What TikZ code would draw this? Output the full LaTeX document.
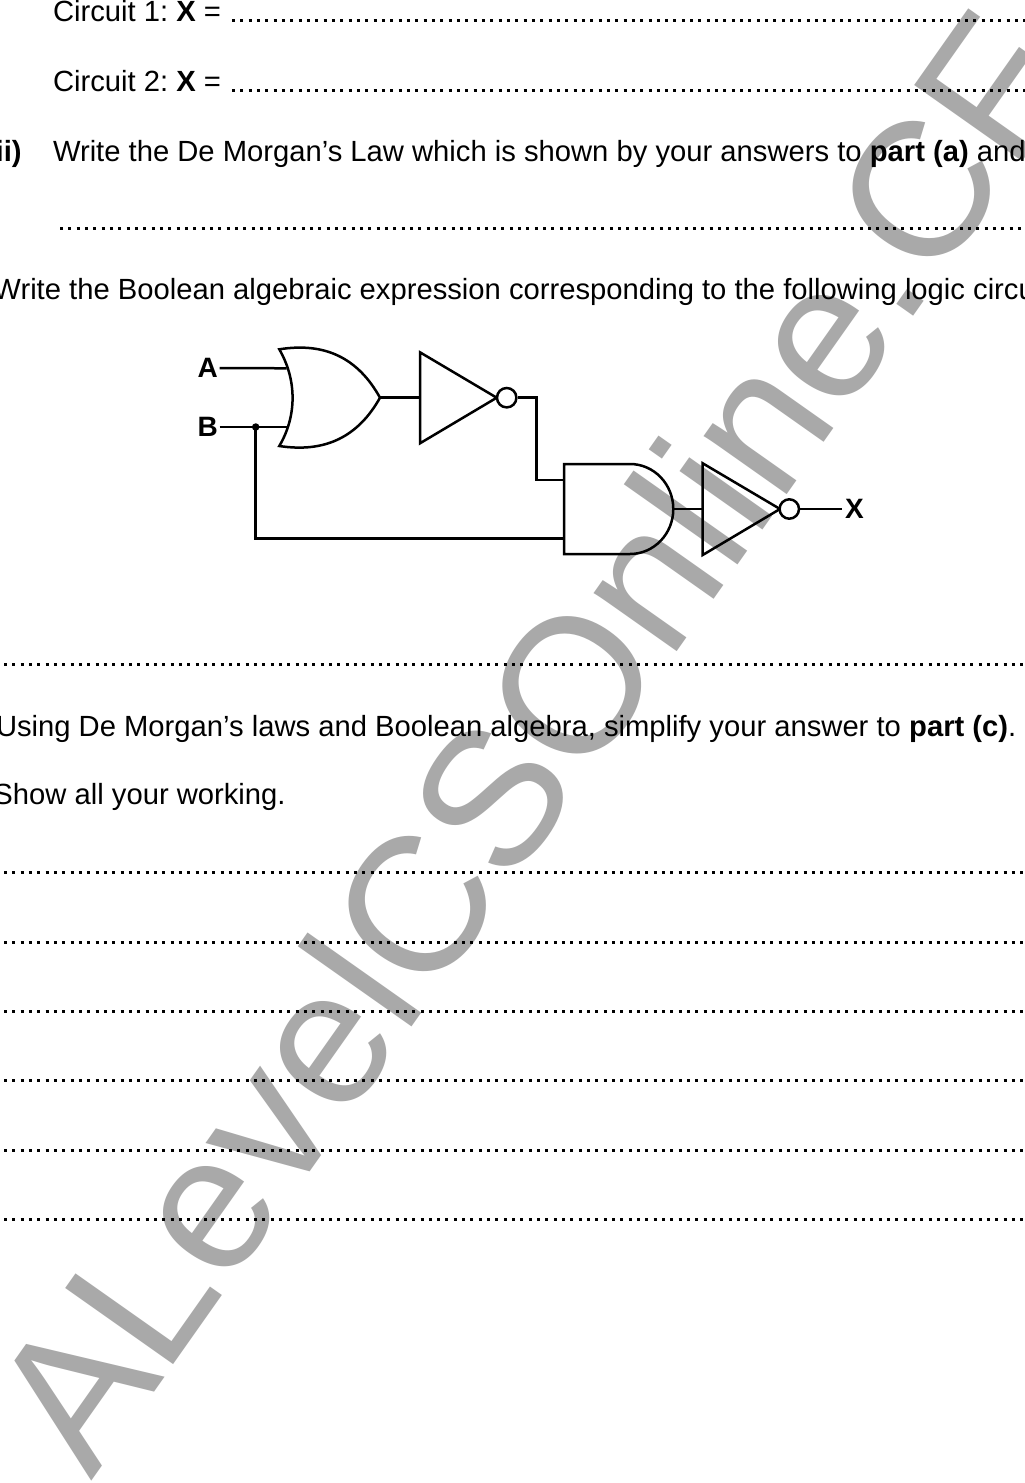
\documentclass[tikz,border=0pt]{standalone}
\usepackage{fontspec}
\setmainfont{Liberation Sans}
\frenchspacing
\tikzset{
  wire/.style={line width=2.5pt,line join=miter,line cap=butt},
  body/.style={inner sep=0pt,outer sep=0pt,anchor=base west,font=\fontsize{29.2}{32}\selectfont\frenchspacing},
  lbl/.style={inner sep=0pt,font=\fontsize{28}{30}\selectfont\bfseries},
  rule/.style={line width=3pt,dash pattern=on 3pt off 5.33pt,black},
  bubble/.style={circle,draw,line width=2.5pt,minimum size=19.4pt,inner sep=0pt,fill=white},
  jn/.style={circle,fill=black,minimum size=7.5pt,inner sep=0pt},
  wmark/.style={inner sep=0pt,anchor=base west,rotate=54.8,text=wm,font=\fontsize{192}{192}\selectfont}
}
\definecolor{wm}{HTML}{A9A9A9}
\begin{document}
\begin{tikzpicture}[x=1pt,y=-1pt]
\useasboundingbox (0,0) rectangle (1025,1483);
\clip (0,0) rectangle (1025,1483);
\fill[white] (0,0) rectangle (1025,1483);
\node[wmark] (wm) at (91,1482) {ALevelCSOnline.CF};
% text
\node[body] (t1) at (53,21.7) {Circuit 1: \textbf{X} =};
\node[body] (t2) at (53,91.7) {Circuit 2: \textbf{X} =};
\node[body] (t3n) at (-4.3,161) {\textbf{ii)}};
\node[body] (t3) at (53,161) {Write the De Morgan’s Law which is shown by your answers to \textbf{part (a)} and};
\node[body] (t4) at (-6.5,299) {Write the Boolean algebraic expression corresponding to the following logic circuit};
\node[body] (t5) at (-4,736) {Using De Morgan’s laws and Boolean algebra, simplify your answer to \textbf{part (c)}.};
\node[body] (t6) at (-6.5,804.5) {Show all your working.};
% answer lines
\foreach \x/\y in {232/20.3,232/90,60/228.3,4/664,4/872,4/942,4/1011.7,4/1080.3,4/1150.3,4/1219.3}
  \draw[rule] (\x,\y) -- (1030,\y);
% circuit
\node[lbl] (A) at (207.7,368) {A};
\node[lbl] (B) at (207.7,427) {B};
\node[lbl] (X) at (854.5,509) {X};
% OR gate
\coordinate (orT) at (279.3,349.3);
\coordinate (orB) at (279.3,446);
\coordinate (orO) at (380,397.7);
\coordinate (orA) at (286.7,368.3);
\coordinate (orC) at (286.7,427);
\draw[wire] (orT) .. controls (297,380) and (297,416) .. (orB)
  .. controls (325,453) and (358,437) .. (orO)
  .. controls (358,358) and (325,342) .. (orT) -- cycle;
% NOT 1
\coordinate (n1L) at (420,397.7);
\coordinate (n1T) at (420,352.3);
\coordinate (n1B) at (420,443.3);
\coordinate (n1O) at (496.7,397.7);
\draw[wire] (n1T) -- (n1O) -- (n1B) -- cycle;
\node[bubble] (b1) at (506.7,397.7) {};
% AND gate
\coordinate (anT) at (564,464);
\coordinate (anB) at (564,554);
\coordinate (an1) at (564,480);
\coordinate (an2) at (564,538.3);
\coordinate (anO) at (673.3,509);
\draw[wire] (anT) -- (630,464) arc[start angle=90,end angle=-90,x radius=43.3,y radius=-45] -- (anB) -- cycle;
% NOT 2
\coordinate (n2L) at (702.7,509);
\coordinate (n2T) at (702.7,463.3);
\coordinate (n2B) at (702.7,555);
\coordinate (n2O) at (780,509);
\draw[wire] (n2T) -- (n2O) -- (n2B) -- cycle;
\node[bubble] (b2) at (789.3,509) {};
% wires
\node[jn] (J) at (255.7,427) {};
\draw[wire] (A.east) ++(1.5,0) -- (orA);
\draw[wire] (B.east) ++(1.5,0) -- (orC);
\draw[wire] (orO) -- (n1L);
\draw[wire] (b1.east) -| (536.7,480) -- (an1);
\draw[wire] (J.center) |- (an2);
\draw[wire] (anO) -- (n2L);
\draw[wire] (b2.east) -- ([xshift=-3pt]X.west);
\end{tikzpicture}
\end{document}
